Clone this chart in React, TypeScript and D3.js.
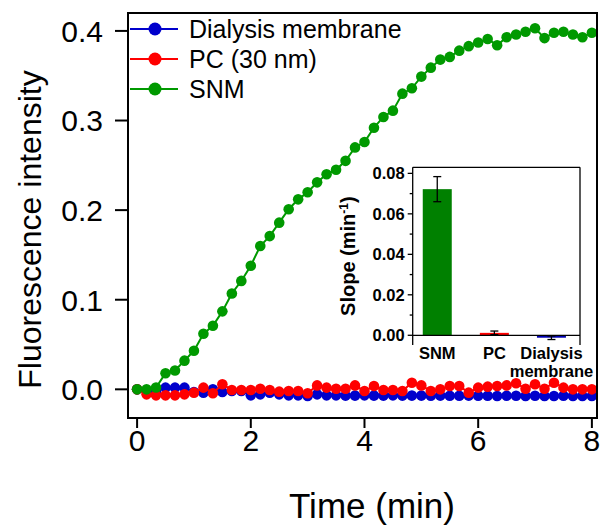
import React from "react";
import * as d3 from "d3";

const times: number[] = d3.range(49).map((i) => i / 6);

const snm: number[] = [
  0.0, 0.0, 0.002, 0.018, 0.021, 0.032, 0.043, 0.062, 0.071, 0.087, 0.107, 0.121, 0.138,
  0.16, 0.171, 0.186, 0.201, 0.212, 0.22, 0.231, 0.24, 0.245, 0.255, 0.27, 0.276, 0.292,
  0.304, 0.311, 0.33, 0.336, 0.349, 0.359, 0.368, 0.371, 0.378, 0.383, 0.387, 0.391, 0.384,
  0.393, 0.396, 0.399, 0.403, 0.392, 0.398, 0.399, 0.396, 0.393, 0.398,
];

const pc: number[] = [
  0, -0.0056, -0.0067, -0.0067, -0.0067, -0.0056, -0.0037, 0.0019, -0.0044, 0.0056, -0.0007,
  -0.0007, -0.0007, 0.0007, -0.0007, -0.0026, -0.0019, -0.0019, -0.0044, 0.0044, 0.0019,
  0.0007, 0.0007, 0.0044, -0.0019, 0.0037, -0.0007, -0.0007, -0.0019, 0.0074, 0.0044,
  -0.0019, 0, 0.0037, 0.0037, -0.0037, 0.0019, 0.003, 0.0037, 0.0044, 0.0067, 0.0007,
  0.0056, 0.0007, 0.0074, 0.0019, 0, 0, 0,
];

const dialysis: number[] = [
  0, -0.002, -0.002, 0.0019, 0.0019, 0.0019, -0.003, -0.0037, 0, -0.003, -0.0019, -0.0019,
  -0.0067, -0.0056, -0.0037, -0.0056, -0.0067, -0.0067, -0.0074, -0.0056,
  -0.0067, -0.0067, -0.007, -0.007, -0.0067, -0.007, -0.007, -0.0067, -0.007, -0.007,
  -0.007, -0.0072, -0.007, -0.0072, -0.0072, -0.007, -0.0072, -0.0072, -0.0074, -0.0072,
  -0.0072, -0.0074, -0.0072, -0.0074, -0.0074, -0.0072, -0.0074, -0.0074, -0.0074,
];

const xTicks: number[] = [0, 2, 4, 6, 8];
const yTicks: number[] = [0, 0.1, 0.2, 0.3, 0.4];

const seriesNames: string[] = ["Dialysis membrane", "PC (30 nm)", "SNM"];
const seriesColors: string[] = ["#0000cc", "#ff0000", "#009900"];

const insetCats: string[] = ["SNM", "PC", "Dialysis membrane"];
const insetSlopes: number[] = [0.0722, 0.0012, -0.0012];
const insetErrors: number[] = [0.0062, 0.0009, 0.0009];
const insetColors: string[] = ["#008000", "#ff0000", "#0000b0"];
const insetYTicks: number[] = [0, 0.02, 0.04, 0.06, 0.08];
const insetYMinor: number[] = [0.01, 0.03, 0.05, 0.07];

const FONT = "Arial, 'Liberation Sans', Helvetica, sans-serif";

export default function App() {
  // main frame
  const L = 128, R = 597, T = 13, B = 418;
  const x = d3.scaleLinear().domain([-0.16, 8.09]).range([L, R]);
  const y = d3.scaleLinear().domain([-0.032, 0.42]).range([B, T]);
  const line = d3
    .line<number>()
    .x((_, i) => x(times[i]))
    .y((d) => y(d));

  const allSeries = [dialysis, pc, snm];

  // inset
  const iL = 412.7, iR = 580, iT = 167.3, iB = 345;
  const ix = d3.scaleLinear().domain([0.57, 3.5]).range([iL, iR]);
  const iy = d3.scaleLinear().domain([-0.0048, 0.083]).range([iB, iT]);
  const barW = 29;

  return (
    <svg
      width={600}
      height={526}
      style={{ position: "absolute", left: 0, top: 0, background: "#fff" }}
      fontFamily={FONT}
    >
      <rect x={0} y={0} width={600} height={526} fill="#fff" />
      {/* data series */}
      {allSeries.map((s, k) => (
        <g key={k}>
          <path d={line(s) || ""} fill="none" stroke={seriesColors[k]} strokeWidth={2} />
          {s.map((v, i) => (
            <circle key={i} cx={x(times[i])} cy={y(v)} r={5.3} fill={seriesColors[k]} />
          ))}
        </g>
      ))}

      {/* frame */}
      <rect x={L} y={T} width={R - L} height={B - T} fill="none" stroke="#000" strokeWidth={2} />

      {/* y axis ticks */}
      {yTicks.map((t) => (
        <g key={t}>
          <line x1={L - 13} x2={L} y1={y(t)} y2={y(t)} stroke="#000" strokeWidth={2} />
          <text x={L - 25} y={y(t)} dy="0.36em" textAnchor="end" fontSize={30} fill="#000">
            {t.toFixed(1)}
          </text>
        </g>
      ))}
      {/* x axis ticks */}
      {xTicks.map((t) => (
        <g key={t}>
          <line x1={x(t)} x2={x(t)} y1={B} y2={B + 10} stroke="#000" strokeWidth={2} />
          <text x={x(t)} y={B + 33} textAnchor="middle" fontSize={30} fill="#000">
            {t}
          </text>
        </g>
      ))}

      <text
        transform={`translate(41, ${(T + B) / 2 + 14}) rotate(-90)`}
        textAnchor="middle"
        fontSize={32}
        fill="#000"
      >
        Fluorescence intensity
      </text>
      <text x={372} y={518} textAnchor="middle" fontSize={35} fill="#000">
        Time (min)
      </text>

      {/* legend */}
      {seriesNames.map((n, k) => (
        <g key={n} transform={`translate(0, ${29 + k * 30})`}>
          <line x1={130} x2={178} y1={0} y2={0} stroke={seriesColors[k]} strokeWidth={2} />
          <circle cx={155} cy={0} r={6.5} fill={seriesColors[k]} />
          <text x={189} y={0} dy="0.36em" fontSize={25} fill="#000">
            {n}
          </text>
        </g>
      ))}

      {/* inset */}
      <rect x={iL} y={iT} width={iR - iL} height={iB - iT} fill="#fff" stroke="none" />
      {insetSlopes.map((v, k) => {
        const cx = ix(k + 1);
        const y0 = iy(0);
        const yv = iy(v);
        return (
          <g key={k}>
            <rect
              x={cx - barW / 2}
              y={Math.min(y0, yv)}
              width={barW}
              height={Math.max(Math.abs(y0 - yv), 1)}
              fill={insetColors[k]}
            />
            <line x1={cx} x2={cx} y1={iy(v + insetErrors[k])} y2={iy(v - insetErrors[k])} stroke="#000" strokeWidth={1.3} />
            <line x1={cx - 4} x2={cx + 4} y1={iy(v + insetErrors[k])} y2={iy(v + insetErrors[k])} stroke="#000" strokeWidth={1.3} />
            <line x1={cx - 4} x2={cx + 4} y1={iy(v - insetErrors[k])} y2={iy(v - insetErrors[k])} stroke="#000" strokeWidth={1.3} />
          </g>
        );
      })}
      <line x1={iL} x2={iR} y1={iy(0)} y2={iy(0)} stroke="#000" strokeWidth={1.3} />
      <line x1={iL} x2={iL} y1={iT} y2={iB} stroke="#000" strokeWidth={1.3} />
      <line x1={iR} x2={iR} y1={iT} y2={iB} stroke="#000" strokeWidth={1.3} />
      <line x1={iL} x2={iR} y1={iT} y2={iT} stroke="#000" strokeWidth={1.3} />
      {insetYTicks.map((t) => (
        <g key={t}>
          <line x1={iL - 5} x2={iL} y1={iy(t)} y2={iy(t)} stroke="#000" strokeWidth={1.3} />
          <text x={iL - 8} y={iy(t)} dy="0.36em" textAnchor="end" fontSize={16.5} fontWeight="bold" fill="#000">
            {t.toFixed(2)}
          </text>
        </g>
      ))}
      {insetYMinor.map((t) => (
        <line key={t} x1={iL - 3} x2={iL} y1={iy(t)} y2={iy(t)} stroke="#000" strokeWidth={1.3} />
      ))}
      {insetCats.map((c, k) => {
        const cx = ix(k + 1);
        const parts = c.split(" ");
        return (
          <text key={c} textAnchor="middle" fontSize={16.5} fontWeight="bold" fill="#000">
            {parts.map((p, j) => (
              <tspan key={j} x={cx} y={359 + j * 18}>
                {p}
              </tspan>
            ))}
          </text>
        );
      })}
      <text
        transform={`translate(355, ${(iT + iB) / 2}) rotate(-90)`}
        textAnchor="middle"
        fontSize={20}
        fontWeight="bold"
        fill="#000"
      >
        Slope (min
        <tspan fontSize={12} dy={-7}>-1</tspan>
        <tspan dy={7}>)</tspan>
      </text>
    </svg>
  );
}
